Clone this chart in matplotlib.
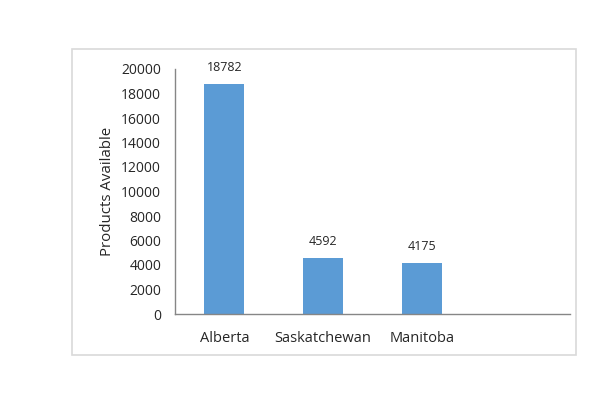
import matplotlib.pyplot as plt
from matplotlib.patches import Rectangle

provinces = ["Alberta", "Saskatchewan", "Manitoba", ""]
products = [18782, 4592, 4175, None]
y_ticks = [0, 2000, 4000, 6000, 8000, 10000, 12000, 14000, 16000, 18000, 20000]

plt.rcParams["font.family"] = ["Open Sans", "DejaVu Sans"]

fig = plt.figure(figsize=(6, 4), dpi=100)
ax = fig.add_axes([0.2917, 0.215, 0.6583, 0.6125])

# outer chart border like the Excel chart area
fig.patches.append(Rectangle((0.12, 0.1125), 0.84, 0.765, transform=fig.transFigure,
                             fill=False, edgecolor="#d9d9d9", linewidth=1.2))

x = list(range(len(provinces)))
vals = [v if v is not None else 0 for v in products]
bars = ax.bar(x, vals, width=0.405, color="#5b9bd5")

for xi, v in zip(x, products):
    if v is None:
        continue
    ax.annotate(str(v), (xi, v), xytext=(0, 11.5), textcoords="offset points",
                ha="center", va="center", fontsize=9, color="#262626")

ax.set_xlim(-0.5, 3.5)
ax.set_ylim(0, 20000)
ax.set_yticks(y_ticks)
ax.set_yticklabels([str(t) for t in y_ticks], fontsize=10, color="#262626")
ax.set_xticks(x)
ax.set_xticklabels(provinces, fontsize=10.5, color="#262626")
ax.tick_params(axis="y", length=0, pad=10)
ax.tick_params(axis="x", length=0, pad=12.5)

ax.set_ylabel("Products Available", fontsize=10.8, color="#262626", va="center")
ax.yaxis.set_label_coords(-0.172, 0.5)

for s in ["top", "right"]:
    ax.spines[s].set_visible(False)
for s in ["left", "bottom"]:
    ax.spines[s].set_color("#868686")
    ax.spines[s].set_linewidth(1)

plt.savefig("out.png", dpi=100)
